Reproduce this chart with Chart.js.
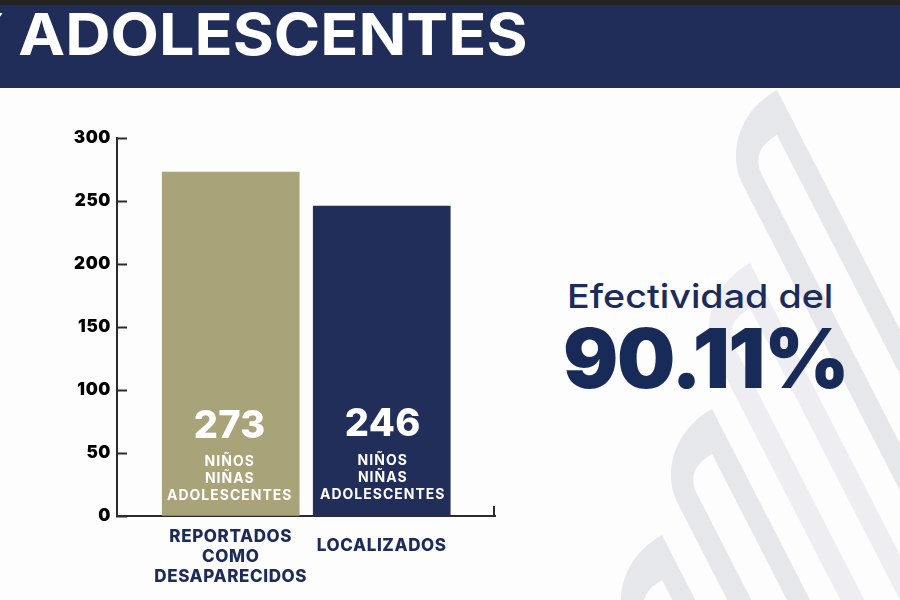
<!DOCTYPE html>
<html lang="es">
<head>
<meta charset="utf-8">
<script src="https://cdn.jsdelivr.net/npm/chart.js@4"></script>
<style>
html,body{margin:0;padding:0;background:#fdfdfe;width:900px;height:600px;overflow:hidden;font-family:Inter,"Open Sans",sans-serif}
.t{position:absolute;white-space:nowrap;line-height:1;transform-origin:0 0}
#strip{position:absolute;left:0;top:0;width:900px;height:5px;background:#232323}
#band{position:absolute;left:0;top:5px;width:900px;height:83px;background:#1f2d58;overflow:hidden}
#title{left:-42.5px;top:0px;font-size:58px;font-weight:700;color:#fff;word-spacing:-0.4px;transform:scaleX(1.083)}
#eff{left:567px;top:280px;font-size:33px;font-weight:500;color:#1c2b59;transform:scaleX(1.142)}
#pct{left:563px;top:318px;font-size:82px;font-weight:900;color:#182a58;letter-spacing:-1.4px}
svg{position:absolute;left:0;top:0}
canvas{position:absolute;left:0;top:0}
</style>
</head>
<body>
<svg width="900" height="600" viewBox="0 0 900 600">
<defs>
<path id="m" fill-rule="evenodd" fill="#e6e7eb" d="M777 90 L1100 719 L1100 880 L742 183 C730 160 733 115 777 90 Z M777 135 L1100 764 L1100 833 L762 175 C755 160 757 147 777 135 Z"/>
</defs>
<use href="#m" transform="translate(-27 173)" opacity="0.65"/>
<use href="#m"/>
<use href="#m" transform="translate(-65 319)"/>
<use href="#m" transform="translate(-115 445)"/>
</svg>
<div id="strip"></div>
<div id="band"><div class="t" id="title">Y ADOLESCENTES</div></div>
<div class="t" id="eff">Efectividad del</div>
<div class="t" id="pct">90.11%</div>
<div style="position:absolute;left:0;top:0;width:900px;height:600px"><canvas id="c" width="900" height="600"></canvas></div>
<script>
const categories = [["REPORTADOS","COMO","DESAPARECIDOS"],["LOCALIZADOS"]];
const values = [273, 246];
const barColors = ["#a9a379", "#202e59"];
const barCaption = ["NIÑOS","NIÑAS","ADOLESCENTES"];
const yTicks = [0,50,100,150,200,250,300];
const fam = 'Inter, "Open Sans", sans-serif';

const spacing = {
  id:'spacing',
  beforeDraw(chart){ chart.ctx.letterSpacing = '0.6px'; }
};
const barText = {
  id:'barText',
  afterDatasetsDraw(chart){
    const ctx = chart.ctx, meta = chart.getDatasetMeta(0);
    ctx.save();
    ctx.fillStyle = '#ffffff';
    ctx.textAlign = 'center';
    ctx.textBaseline = 'middle';
    meta.data.forEach((bar,i)=>{
      const b = bar.base, shift = i===0 ? 0 : -1;
      const cx = bar.x + (i===0 ? -1 : 1);
      ctx.letterSpacing = '0.3px';
      ctx.font = '800 38px '+fam;
      ctx.fillText(String(values[i]), cx, b-89+(i===0?0:-2));
      ctx.letterSpacing = '1px';
      ctx.font = '700 14px '+fam;
      barCaption.forEach((s,k)=>ctx.fillText(s, cx, b-53.5+shift+k*17));
    });
    ctx.restore();
  }
};
const axisEnd = {
  id:'axisEnd',
  afterDraw(chart){
    const ctx = chart.ctx, a = chart.chartArea;
    ctx.save();
    ctx.strokeStyle = '#2b2b2b';
    ctx.lineWidth = 2;
    ctx.beginPath();
    ctx.moveTo(a.right-1, a.bottom);
    ctx.lineTo(a.right-1, a.bottom-10);
    ctx.stroke();
    ctx.restore();
  }
};

new Chart(document.getElementById('c'), {
  type:'bar',
  data:{datasets:[{
    data: values.map((v,i)=>({x:i,y:v})),
    backgroundColor: barColors,
    barThickness:137,
    borderWidth:0
  }]},
  plugins:[spacing,barText,axisEnd],
  options:{
    responsive:false,
    animation:false,
    layout:{padding:{top:138,right:405,left:0,bottom:0}},
    plugins:{legend:{display:false},tooltip:{enabled:false},title:{display:false}},
    scales:{
      x:{
        type:'linear',
        offset:false,
        min:-0.753,
        max:1.75,
        afterBuildTicks:s=>{s.ticks = categories.map((_,i)=>({value:i}));},
        afterFit:s=>{s.height = 84;},
        grid:{offset:false,drawOnChartArea:false,drawTicks:false},
        border:{display:true,color:'#2b2b2b',width:2},
        ticks:{
          autoSkip:false,maxRotation:0,minRotation:0,includeBounds:false,
          padding:11,crossAlign:'near',color:'#1c2b59',
          font:c=>({family:fam,size:17,weight:'800',lineHeight:c.index===1?'38px':'20px'}),
          callback:v=>categories[v]
        }
      },
      y:{
        min:0,max:300,
        afterBuildTicks:s=>{s.ticks = yTicks.map(v=>({value:v}));},
        afterFit:s=>{s.width = 117;},
        grid:{drawOnChartArea:false,drawTicks:true,tickLength:-10,tickWidth:2,tickColor:'#2b2b2b'},
        border:{display:true,color:'#2b2b2b',width:2},
        ticks:{padding:16,color:'#000',font:{family:fam,size:17,weight:'900'}}
      }
    }
  }
});
</script>
</body>
</html>
